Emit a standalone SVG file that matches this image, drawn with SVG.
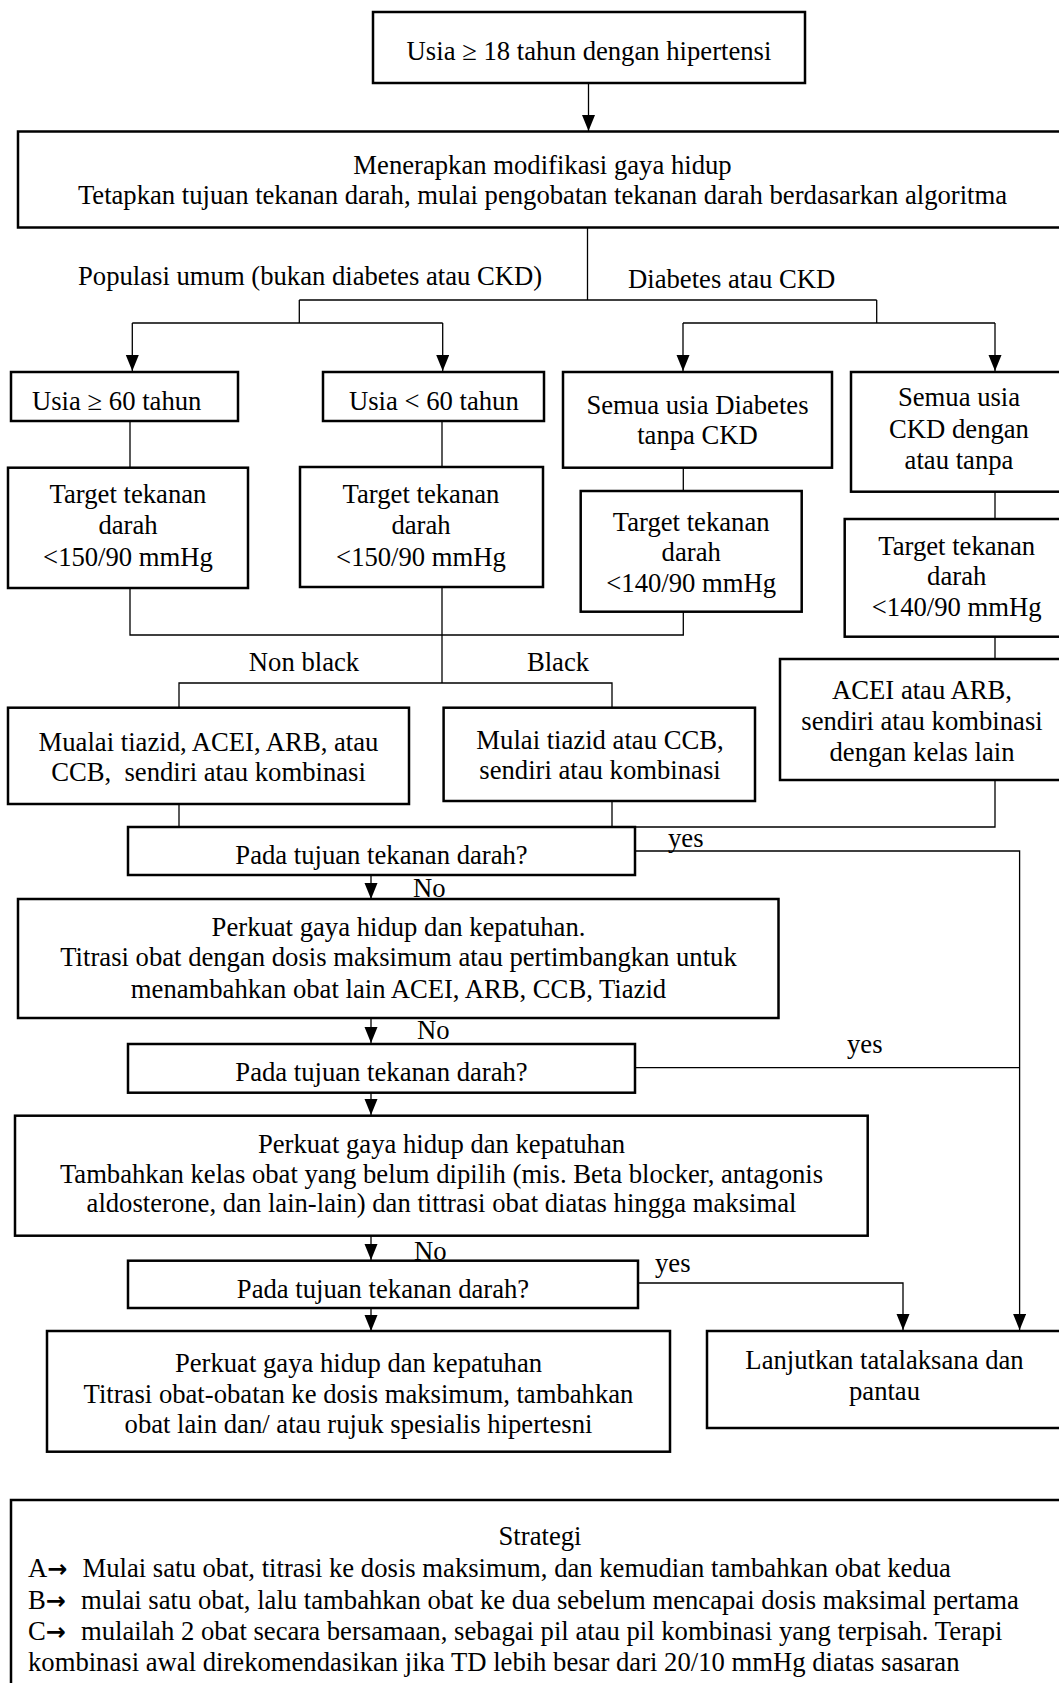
<svg xmlns="http://www.w3.org/2000/svg" width="1059" height="1683" viewBox="0 0 1059 1683">
<style>
  .box { fill: #fff; stroke: #000; stroke-width: 2.5; }
  .t { font-family: "Liberation Serif", "Times New Roman", serif; font-size: 26.67px; fill: #000; }
  .c { text-anchor: middle; }
  .ln { fill: none; stroke: #000; stroke-width: 1.3; }
  .pre { white-space: pre; }
  .arr { font-family: "DejaVu Sans", sans-serif; font-weight: bold; font-size: 24px; }
</style>
<defs>
  <marker id="ah" markerUnits="userSpaceOnUse" markerWidth="17" markerHeight="14" refX="16" refY="6.5" orient="auto">
    <path d="M0,0 L16,6.5 L0,13 z" fill="#000"/>
  </marker>
</defs>
<rect width="1059" height="1683" fill="#fff"/>

<g id="connectors">
  <line class="ln" x1="588.5" y1="83" x2="588.5" y2="131" marker-end="url(#ah)"/>
  <polyline class="ln" points="587.5,227.5 587.5,300"/>
  <polyline class="ln" points="299.3,300 876.7,300"/>
  <polyline class="ln" points="299.3,300 299.3,323"/>
  <polyline class="ln" points="132.3,323 442.7,323"/>
  <line class="ln" x1="132.3" y1="323" x2="132.3" y2="371" marker-end="url(#ah)"/>
  <line class="ln" x1="442.7" y1="323" x2="442.7" y2="371" marker-end="url(#ah)"/>
  <polyline class="ln" points="876.7,300 876.7,323"/>
  <polyline class="ln" points="683,323 995,323"/>
  <line class="ln" x1="683" y1="323" x2="683" y2="371" marker-end="url(#ah)"/>
  <line class="ln" x1="995" y1="323" x2="995" y2="371" marker-end="url(#ah)"/>
  <polyline class="ln" points="130,421 130,468"/>
  <polyline class="ln" points="442,421 442,467"/>
  <polyline class="ln" points="683.3,468 683.3,491"/>
  <polyline class="ln" points="995,492 995,519"/>
  <polyline class="ln" points="130,588 130,635 683.3,635 683.3,612"/>
  <polyline class="ln" points="442,587 442,683"/>
  <polyline class="ln" points="179,707 179,683 612,683 612,707"/>
  <polyline class="ln" points="995,637 995,659"/>
  <polyline class="ln" points="179,804 179,827"/>
  <polyline class="ln" points="612,801 612,827"/>
  <polyline class="ln" points="995,780 995,827 635,827"/>
  <polyline class="ln" points="635,851 1019.6,851 1019.6,1330" marker-end="url(#ah)"/>
  <line class="ln" x1="371" y1="875" x2="371" y2="899" marker-end="url(#ah)"/>
  <line class="ln" x1="371" y1="1018" x2="371" y2="1043" marker-end="url(#ah)"/>
  <polyline class="ln" points="635,1067.7 1019.6,1067.7"/>
  <line class="ln" x1="371" y1="1092.7" x2="371" y2="1115" marker-end="url(#ah)"/>
  <line class="ln" x1="371" y1="1235.7" x2="371" y2="1260" marker-end="url(#ah)"/>
  <polyline class="ln" points="638,1283 903,1283 903,1330" marker-end="url(#ah)"/>
  <line class="ln" x1="371" y1="1308" x2="371" y2="1331" marker-end="url(#ah)"/>
  <text class="t" x="78" y="285">Populasi umum (bukan diabetes atau CKD)</text>
  <text class="t" x="628" y="288">Diabetes atau CKD</text>
  <text class="t c" x="304" y="671">Non black</text>
  <text class="t c" x="558" y="671">Black</text>
  <text class="t" x="668" y="847">yes</text>
  <text class="t" x="413" y="897">No</text>
  <text class="t" x="417" y="1039">No</text>
  <text class="t" x="847" y="1053">yes</text>
  <text class="t" x="414" y="1260">No</text>
  <text class="t" x="655" y="1272">yes</text>
</g>

<g id="start">
  <rect class="box" x="373" y="12" width="432" height="71"/>
  <text class="t c" x="589" y="60">Usia ≥ 18 tahun dengan hipertensi</text>
</g>
<g id="lifestyle">
  <rect class="box" x="18" y="131.5" width="1045" height="96"/>
  <text class="t c" x="542.5" y="173.5">Menerapkan modifikasi gaya hidup</text>
  <text class="t c" x="542.5" y="204">Tetapkan tujuan tekanan darah, mulai pengobatan tekanan darah berdasarkan algoritma</text>
</g>
<g id="age60plus">
  <rect class="box" x="11" y="372" width="227" height="49"/>
  <text class="t" x="32" y="410">Usia ≥ 60 tahun</text>
</g>
<g id="age60minus">
  <rect class="box" x="323" y="372" width="221" height="49"/>
  <text class="t" x="349" y="410">Usia &lt; 60 tahun</text>
</g>
<g id="diabetes">
  <rect class="box" x="563" y="372" width="269" height="95.7"/>
  <text class="t c" x="697.5" y="414">Semua usia Diabetes</text>
  <text class="t c" x="697.5" y="443.5">tanpa CKD</text>
</g>
<g id="ckd">
  <rect class="box" x="851" y="372" width="212" height="119.7"/>
  <text class="t c" x="959" y="406">Semua usia</text>
  <text class="t c" x="959" y="438">CKD dengan</text>
  <text class="t c" x="959" y="469">atau tanpa</text>
</g>
<g id="target1">
  <rect class="box" x="8" y="467.7" width="240" height="120.3"/>
  <text class="t c" x="128" y="503">Target tekanan</text>
  <text class="t c" x="128" y="534">darah</text>
  <text class="t c" x="128" y="565.5">&lt;150/90 mmHg</text>
</g>
<g id="target2">
  <rect class="box" x="300" y="467" width="243" height="120"/>
  <text class="t c" x="421" y="503">Target tekanan</text>
  <text class="t c" x="421" y="534">darah</text>
  <text class="t c" x="421" y="565.5">&lt;150/90 mmHg</text>
</g>
<g id="target3">
  <rect class="box" x="580.7" y="491" width="221" height="120.7"/>
  <text class="t c" x="691.2" y="531">Target tekanan</text>
  <text class="t c" x="691.2" y="561">darah</text>
  <text class="t c" x="691.2" y="592">&lt;140/90 mmHg</text>
</g>
<g id="target4">
  <rect class="box" x="844.7" y="519" width="218" height="117.7"/>
  <text class="t c" x="956.7" y="555">Target tekanan</text>
  <text class="t c" x="956.7" y="585">darah</text>
  <text class="t c" x="956.7" y="616">&lt;140/90 mmHg</text>
</g>
<g id="nonblack">
  <rect class="box" x="8" y="707.7" width="401" height="96.3"/>
  <text class="t c" x="208.5" y="751">Mualai tiazid, ACEI, ARB, atau</text>
  <text class="t c pre" x="208.5" y="781">CCB,  sendiri atau kombinasi</text>
</g>
<g id="black">
  <rect class="box" x="443.6" y="707.7" width="311.4" height="93.3"/>
  <text class="t c" x="600" y="749">Mulai tiazid atau CCB,</text>
  <text class="t c" x="600" y="779">sendiri atau kombinasi</text>
</g>
<g id="acei">
  <rect class="box" x="780" y="659" width="283" height="121"/>
  <text class="t c" x="922" y="699">ACEI atau ARB,</text>
  <text class="t c" x="922" y="730">sendiri atau kombinasi</text>
  <text class="t c" x="922" y="761">dengan kelas lain</text>
</g>
<g id="decision1">
  <rect class="box" x="128" y="827" width="507" height="48"/>
  <text class="t c" x="381.5" y="864">Pada tujuan tekanan darah?</text>
</g>
<g id="step2">
  <rect class="box" x="18" y="899" width="760.5" height="119"/>
  <text class="t c" x="398.5" y="936">Perkuat gaya hidup dan kepatuhan.</text>
  <text class="t c" x="398.5" y="966">Titrasi obat dengan dosis maksimum atau pertimbangkan untuk</text>
  <text class="t c" x="398.5" y="998">menambahkan obat lain ACEI, ARB, CCB, Tiazid</text>
</g>
<g id="decision2">
  <rect class="box" x="128" y="1044" width="507" height="48.7"/>
  <text class="t c" x="381.5" y="1081">Pada tujuan tekanan darah?</text>
</g>
<g id="step3">
  <rect class="box" x="15" y="1115.7" width="852.7" height="120"/>
  <text class="t c" x="441.5" y="1153">Perkuat gaya hidup dan kepatuhan</text>
  <text class="t c" x="441.5" y="1183">Tambahkan kelas obat yang belum dipilih (mis. Beta blocker, antagonis</text>
  <text class="t c" x="441.5" y="1212">aldosterone, dan lain-lain) dan tittrasi obat diatas hingga maksimal</text>
</g>
<g id="decision3">
  <rect class="box" x="128" y="1260.7" width="510" height="47.3"/>
  <text class="t c" x="383" y="1298">Pada tujuan tekanan darah?</text>
</g>
<g id="step4">
  <rect class="box" x="47" y="1331" width="623" height="120.7"/>
  <text class="t c" x="358.5" y="1372">Perkuat gaya hidup dan kepatuhan</text>
  <text class="t c" x="358.5" y="1403">Titrasi obat-obatan ke dosis maksimum, tambahkan</text>
  <text class="t c" x="358.5" y="1433">obat lain dan/ atau rujuk spesialis hipertesni</text>
</g>
<g id="continue">
  <rect class="box" x="707" y="1331" width="356" height="97"/>
  <text class="t c" x="884.5" y="1369">Lanjutkan tatalaksana dan</text>
  <text class="t c" x="884.5" y="1400">pantau</text>
</g>
<g id="strategy">
  <rect class="box" x="11" y="1500" width="1052" height="195"/>
  <text class="t c" x="540" y="1545">Strategi</text>
  <text class="t" x="28" y="1577">A<tspan class="arr">→</tspan><tspan x="82.5">Mulai satu obat, titrasi ke dosis maksimum, dan kemudian tambahkan obat kedua</tspan></text>
  <text class="t" x="28" y="1609">B<tspan class="arr">→</tspan><tspan x="81">mulai satu obat, lalu tambahkan obat ke dua sebelum mencapai dosis maksimal pertama</tspan></text>
  <text class="t" x="28" y="1640">C<tspan class="arr">→</tspan><tspan x="81">mulailah 2 obat secara bersamaan, sebagai pil atau pil kombinasi yang terpisah. Terapi</tspan></text>
  <text class="t" x="28" y="1671">kombinasi awal direkomendasikan jika TD lebih besar dari 20/10 mmHg diatas sasaran</text>
</g>
</svg>
